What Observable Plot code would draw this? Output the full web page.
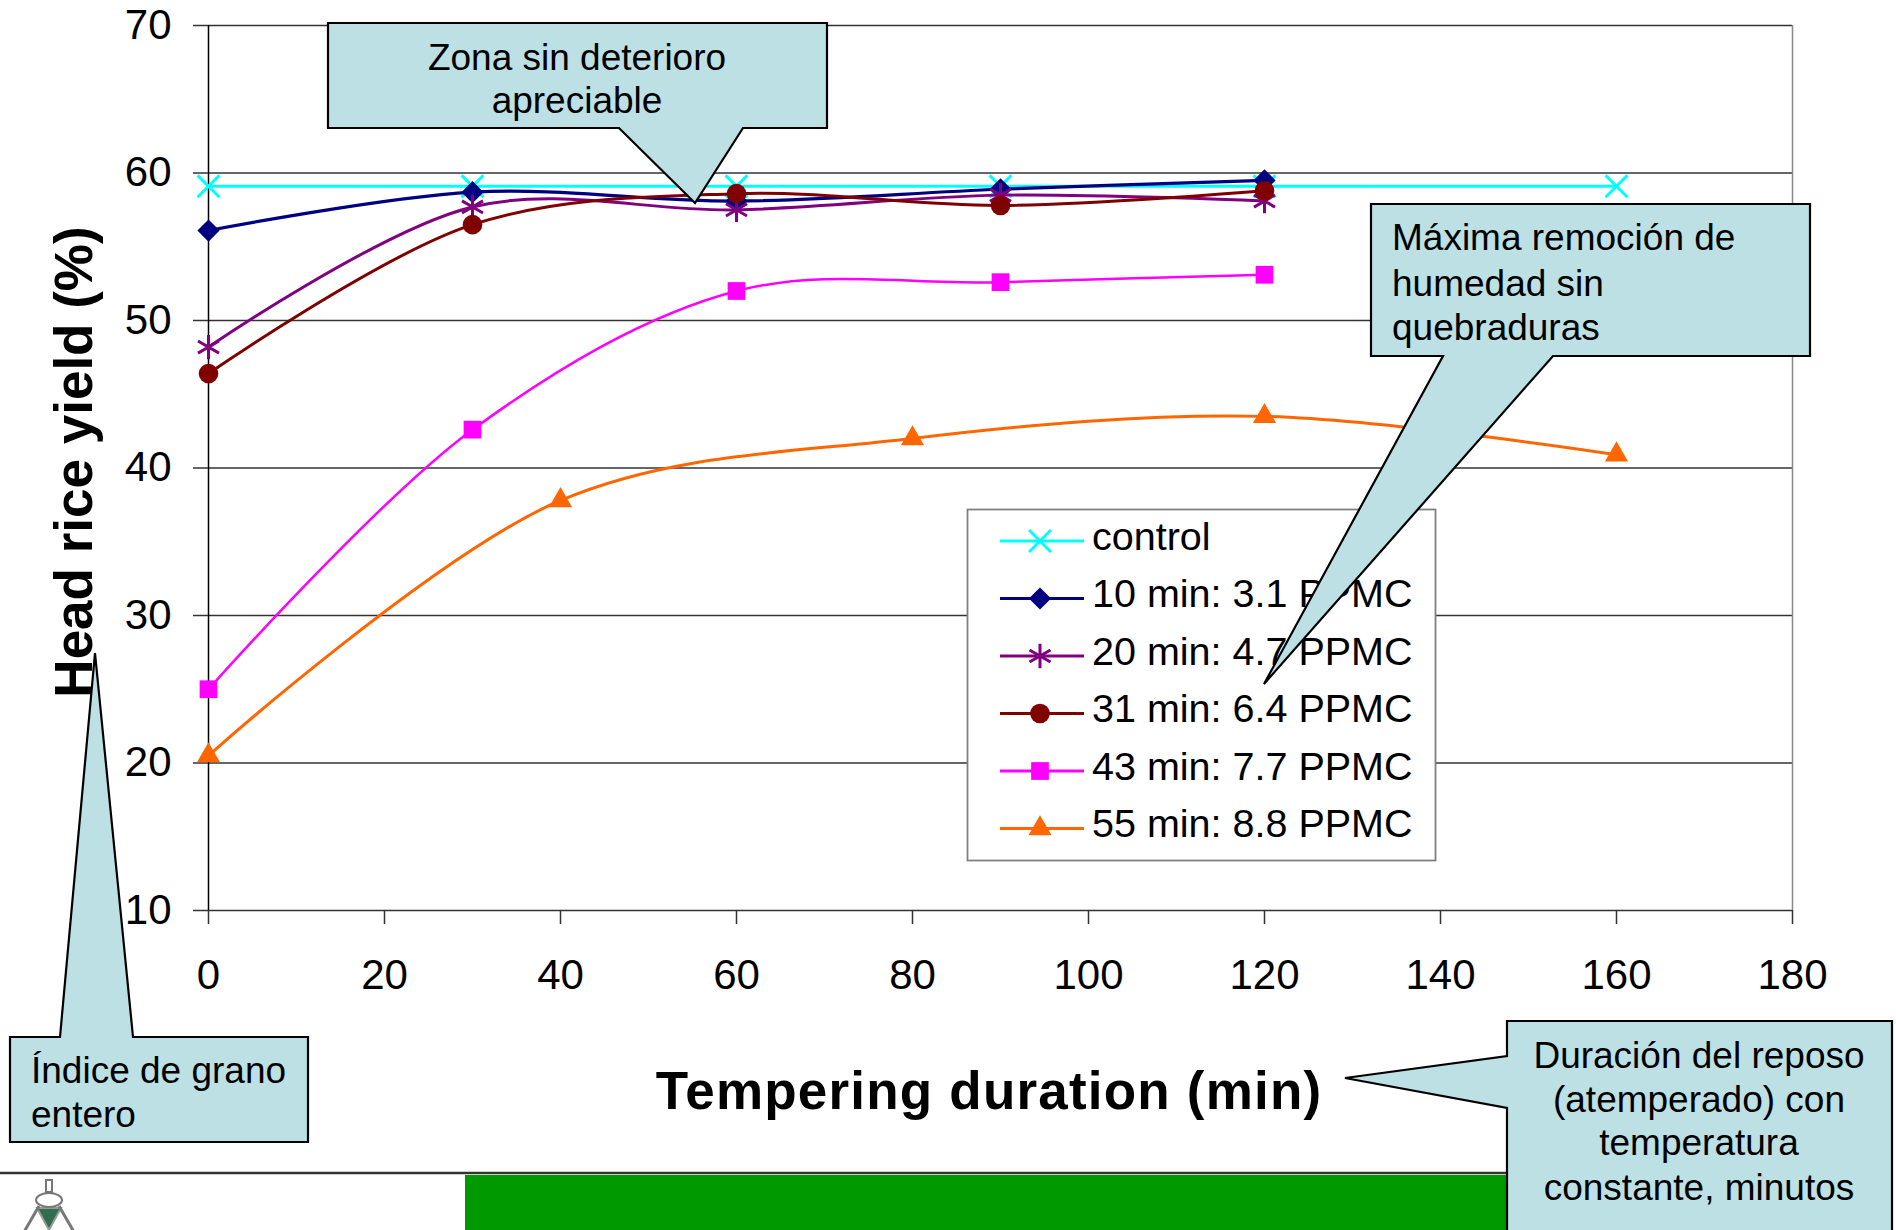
<!DOCTYPE html>
<html>
<head>
<meta charset="utf-8">
<script src="https://cdn.jsdelivr.net/npm/d3@7"></script>
<script src="https://cdn.jsdelivr.net/npm/@observablehq/plot@0.6"></script>
<style>
  html, body { margin: 0; padding: 0; background: #fff; }
  #wrap { position: relative; width: 1896px; height: 1230px; overflow: hidden; font-family: "Liberation Sans", Arial, sans-serif; }
  #overlay { position: absolute; left: 0; top: 0; pointer-events: none; }
</style>
</head>
<body>
<div id="wrap"></div>
<script>
// ---------------- DATA ----------------
const xTicks = [0, 20, 40, 60, 80, 100, 120, 140, 160, 180];
const yTicks = [10, 20, 30, 40, 50, 60, 70];

const seriesNames = ["control", "10 min: 3.1 PPMC", "20 min: 4.7 PPMC", "31 min: 6.4 PPMC", "43 min: 7.7 PPMC", "55 min: 8.8 PPMC"];

const controlMinutes = [0, 30, 60, 90, 120, 160];
const controlYield   = [59.1, 59.1, 59.1, 59.1, 59.1, 59.1];

const dryMinutes = [0, 30, 60, 90, 120];
const yield10 = [56.1, 58.7, 58.1, 58.9, 59.5];
const yield20 = [48.2, 57.7, 57.5, 58.5, 58.1];
const yield31 = [46.4, 56.5, 58.6, 57.8, 58.8];
const yield43 = [25.0, 42.6, 52.0, 52.6, 53.1];

const minutes55 = [0, 40, 80, 120, 160];
const yield55   = [20.5, 37.8, 42.0, 43.5, 40.9];

const axisTitleX = "Tempering duration (min)";
const axisTitleY = "Head rice yield (%)";
const calloutZona = ["Zona sin deterioro", "apreciable"];
const calloutMaxima = ["Máxima remoción de", "humedad sin", "quebraduras"];
const calloutIndice = ["Índice de grano", "entero"];
const calloutDuracion = ["Duración del reposo", "(atemperado) con", "temperatura", "constante, minutos"];

// ---------------- STYLE ----------------
const seriesX = [controlMinutes, dryMinutes, dryMinutes, dryMinutes, dryMinutes, minutes55];
const seriesY = [controlYield, yield10, yield20, yield31, yield43, yield55];
const seriesColors = ["#00FFFF", "#000080", "#800080", "#800000", "#FF00FF", "#FF6600"];
const seriesSymbols = ["times", "diamond2", "asterisk", "circle", "square", "triangle"];
const d3Symbols = [d3.symbolTimes, d3.symbolDiamond2, d3.symbolAsterisk, d3.symbolCircle, d3.symbolSquare, d3.symbolTriangle];
const symbolR = [10, 10, 11.5, 9.8, 10, 8.6];
const strokeSymbol = [true, false, true, false, false, false];
const lineWidths = [3, 3.2, 3, 3, 2.5, 3];

const FONT = "'Liberation Sans', Arial, sans-serif";
const W = 1896, H = 1230;

const rows = [];
seriesNames.forEach((name, i) => {
  seriesX[i].forEach((x, j) => rows.push({series: name, idx: i, x, y: seriesY[i][j]}));
});

const marks = [
  Plot.ruleY(yTicks, {stroke: "#333", strokeWidth: 1.5}),
  Plot.ruleX([180], {y1: 10, y2: 70, stroke: "#888", strokeWidth: 1.5}),
  Plot.ruleX([0], {y1: 10, y2: 70, stroke: "#000", strokeWidth: 1.5}),
  Plot.axisY({ticks: yTicks, tickSize: 15, tickPadding: 22, fontSize: 42, label: null, tickFormat: d => String(d), stroke: "#333", strokeWidth: 1.5}),
  Plot.axisX({ticks: xTicks, tickSize: 14, tickPadding: 35, fontSize: 42, label: null, tickFormat: d => String(d), stroke: "#333", strokeWidth: 1.5})
];

seriesNames.forEach((name, i) => {
  const data = rows.filter(d => d.idx === i);
  marks.push(Plot.line(data, {x: "x", y: "y", stroke: seriesColors[i], strokeWidth: lineWidths[i], curve: "catmull-rom"}));
  if (strokeSymbol[i]) {
    marks.push(Plot.dot(data, {x: "x", y: "y", symbol: seriesSymbols[i], r: symbolR[i], stroke: seriesColors[i], fill: "none", strokeWidth: 3}));
  } else {
    marks.push(Plot.dot(data, {x: "x", y: "y", symbol: seriesSymbols[i], r: symbolR[i], fill: seriesColors[i], stroke: "none"}));
  }
});

const chart = Plot.plot({
  width: W,
  height: H,
  marginLeft: 208,
  marginRight: 104,
  marginTop: 25,
  marginBottom: 320,
  x: {domain: [0, 180], label: null, axis: null},
  y: {domain: [10, 70], label: null, axis: null},
  style: {fontFamily: FONT, fontSize: "42px", color: "#000", background: "transparent", overflow: "visible"},
  marks
});
document.getElementById("wrap").appendChild(chart);

// ---------------- OVERLAY (titles, legend, callouts) ----------------
const svg = d3.select("#wrap").append("svg")
  .attr("id", "overlay").attr("width", W).attr("height", H)
  .attr("viewBox", `0 0 ${W} ${H}`)
  .style("font-family", FONT);

// bottom decoration
svg.append("line").attr("x1", 0).attr("x2", 1510).attr("y1", 1173).attr("y2", 1173).attr("stroke", "#333").attr("stroke-width", 2.5);
svg.append("rect").attr("x", 465).attr("y", 1175).attr("width", 1050).attr("height", 60).attr("fill", "#009900");
// small logo sketch
const logo = svg.append("g").attr("stroke", "#777").attr("fill", "none").attr("stroke-width", 2);
logo.append("rect").attr("x", 46).attr("y", 1180).attr("width", 6).attr("height", 12);
logo.append("path").attr("d", "M49,1230 L37,1208 L61,1208 Z").attr("fill", "#2f6e52").attr("stroke", "#999");
logo.append("ellipse").attr("cx", 49).attr("cy", 1200).attr("rx", 13).attr("ry", 7).attr("fill", "#fff");
logo.append("line").attr("x1", 39).attr("y1", 1206).attr("x2", 24).attr("y2", 1232).attr("stroke-width", 3);
logo.append("line").attr("x1", 59).attr("y1", 1206).attr("x2", 74).attr("y2", 1232).attr("stroke-width", 3);

// axis titles
svg.append("text").attr("x", 989).attr("y", 1109).attr("text-anchor", "middle")
  .attr("font-size", 53).attr("font-weight", "bold").attr("letter-spacing", 1.2).text(axisTitleX);
svg.append("text").attr("transform", "translate(92,462) rotate(-90)").attr("text-anchor", "middle")
  .attr("font-size", 53).attr("font-weight", "bold").text(axisTitleY);

// legend
const lg = svg.append("g");
lg.append("rect").attr("x", 967.5).attr("y", 509.5).attr("width", 468).attr("height", 351)
  .attr("fill", "#fff").attr("stroke", "#808080").attr("stroke-width", 1.8);
seriesNames.forEach((name, i) => {
  const cy = 541 + i * 57.5;
  lg.append("line").attr("x1", 1000).attr("x2", 1084).attr("y1", cy).attr("y2", cy)
    .attr("stroke", seriesColors[i]).attr("stroke-width", 3);
  const p = d3.symbol(d3Symbols[i], Math.PI * symbolR[i] * symbolR[i])();
  const s = lg.append("path").attr("d", p).attr("transform", `translate(1040,${cy})`);
  if (strokeSymbol[i]) s.attr("fill", "none").attr("stroke", seriesColors[i]).attr("stroke-width", 3);
  else s.attr("fill", seriesColors[i]);
  lg.append("text").attr("x", 1092).attr("y", cy + 8.5).attr("font-size", 39.5).attr("fill", "#000").text(name);
});

// callouts
const CFILL = "#bce0e3";
function callout(d, lines, tx, baselines, anchor) {
  const g = svg.append("g");
  g.append("path").attr("d", d).attr("fill", CFILL).attr("stroke", "#000").attr("stroke-width", 2.2).attr("stroke-linejoin", "miter");
  lines.forEach((t, k) => {
    g.append("text").attr("x", tx).attr("y", baselines[k]).attr("text-anchor", anchor)
      .attr("font-size", 37).attr("fill", "#000").text(t);
  });
}
callout("M328,23 H827 V128 H743 L695,203 L619,128 H328 Z", calloutZona, 577, [70, 113], "middle");
callout("M1371,204 H1810 V356 H1553 L1264,684 L1443,356 H1371 Z", calloutMaxima, 1392, [250, 296, 340], "start");
callout("M10,1037 H60 L95,653 L133,1037 H308 V1142 H10 Z", calloutIndice, 31, [1083, 1127], "start");
callout("M1507,1021 H1892 V1260 H1507 V1108 L1345,1078 L1507,1056 Z", calloutDuracion, 1699, [1068, 1112, 1155, 1200], "middle");
</script>
</body>
</html>
